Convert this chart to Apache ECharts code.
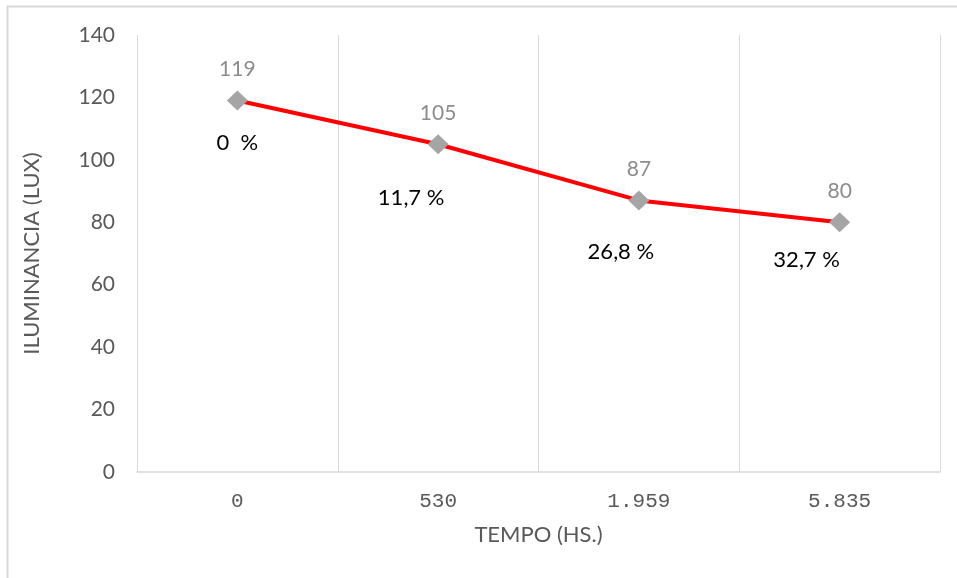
<!DOCTYPE html>
<html>
<head>
<meta charset="utf-8">
<script src="https://cdn.jsdelivr.net/npm/echarts@6/dist/echarts.min.js"></script>
<style>
  html, body { margin: 0; padding: 0; background: #fff; }
  #chart { width: 957px; height: 578px; }
</style>
</head>
<body>
<div id="chart"></div>
<script>
// Illuminance measured over operating time
const categories = ['0', '530', '1.959', '5.835'];
const illuminance = [119, 105, 87, 80];
const lossLabels = ['0  %', '11,7 %', '26,8 %', '32,7 %'];
const yTicks = { min: 0, max: 140, interval: 20 };

// Where each loss-percentage label sits relative to its point
const lossOffsets = [[0, 42], [-27, 54], [-18, 51], [-33, 38]];

const FONT = 'Lato, "Open Sans", sans-serif';

const chart = echarts.init(document.getElementById('chart'), null, { renderer: 'canvas' });

chart.setOption({
  backgroundColor: '#ffffff',
  animation: false,
  graphic: [{
    type: 'rect',
    shape: { x: 7.5, y: 6.5, width: 1000, height: 1000 },
    style: { fill: 'none', stroke: '#d9d9d9', lineWidth: 2 },
    silent: true
  }],
  grid: { left: 137, right: 17, top: 35, bottom: 106, containLabel: false },
  xAxis: {
    type: 'category',
    data: categories,
    boundaryGap: true,
    name: 'TEMPO (HS.)',
    nameLocation: 'middle',
    nameGap: 52,
    nameTextStyle: { color: '#595959', fontSize: 22, fontFamily: FONT },
    axisLine: { show: true, lineStyle: { color: '#d9d9d9', width: 1.5 } },
    axisTick: { show: false },
    axisLabel: { color: '#595959', fontSize: 21, fontFamily: '"Liberation Mono", monospace', margin: 19 },
    splitLine: { show: true, interval: 0, lineStyle: { color: '#d9d9d9', width: 1 } }
  },
  yAxis: {
    type: 'value',
    min: yTicks.min,
    max: yTicks.max,
    interval: yTicks.interval,
    name: 'ILUMINANCIA (LUX)',
    nameLocation: 'middle',
    nameRotate: 90,
    nameGap: 94,
    nameTextStyle: { color: '#595959', fontSize: 22, fontFamily: FONT },
    axisLine: { show: false },
    axisTick: { show: false },
    axisLabel: { color: '#595959', fontSize: 21, fontFamily: FONT, margin: 22 },
    splitLine: { show: false }
  },
  series: [
    {
      type: 'line',
      data: illuminance,
      symbol: 'diamond',
      symbolSize: [21, 20],
      lineStyle: { color: '#ff0000', width: 4 },
      itemStyle: { color: '#a5a5a5' },
      label: {
        show: true,
        position: 'top',
        distance: 11,
        color: '#8c8c8c',
        fontSize: 21,
        fontFamily: FONT
      },
      z: 3
    },
    {
      type: 'line',
      data: illuminance.map((v, i) => ({
        value: v,
        label: { offset: lossOffsets[i], formatter: lossLabels[i] }
      })),
      symbol: 'circle',
      symbolSize: 1,
      lineStyle: { opacity: 0 },
      itemStyle: { color: 'rgba(0,0,0,0)' },
      label: {
        show: true,
        position: 'inside',
        color: '#000000',
        fontSize: 22,
        fontFamily: FONT
      },
      silent: true,
      z: 4
    }
  ]
});
</script>
</body>
</html>
